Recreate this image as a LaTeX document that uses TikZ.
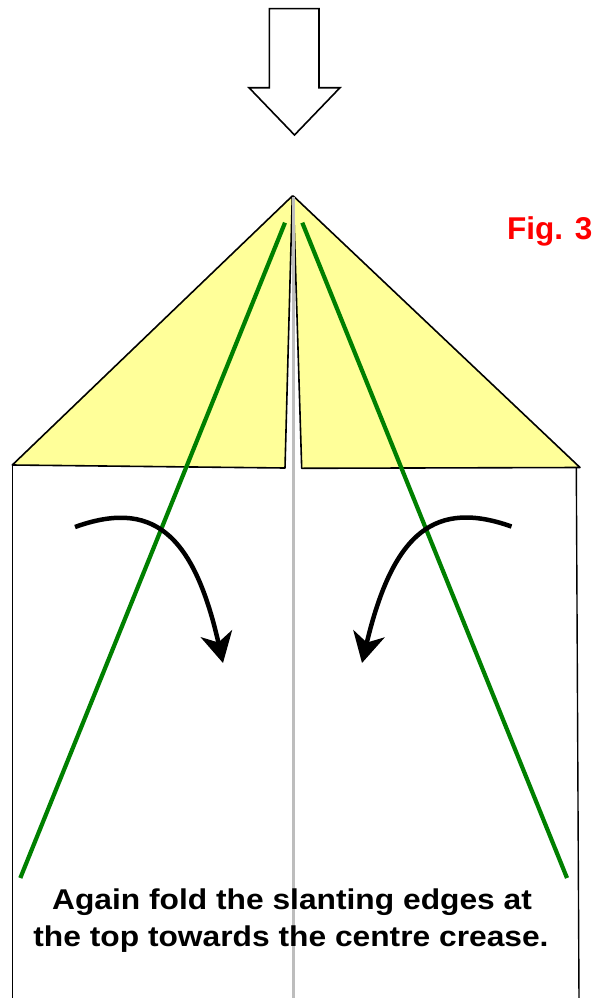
\documentclass[tikz,border=0pt]{standalone}
\usepackage{fontspec}
\setmainfont{Liberation Sans}
\usetikzlibrary{arrows.meta}
\definecolor{paleyellow}{HTML}{FFFF99}
\definecolor{foldgreen}{HTML}{008000}
\definecolor{creasegrey}{HTML}{BDBDBD}
\begin{document}
\begin{tikzpicture}[x=1pt,y=-1pt,
  flap/.style={draw=black,line width=1.6pt,fill=paleyellow,line join=round},
  paperedge/.style={draw=black,line width=1.4pt},
  crease/.style={draw=creasegrey,line width=2.6pt},
  foldline/.style={draw=foldgreen,line width=4.2pt},
  turnarrow/.style={draw=black,line width=4.5pt,-{Stealth[length=30pt,width=32pt,inset=9pt]}},
  bigarrow/.style={draw=black,line width=1.6pt,fill=white,line join=miter},
  caption/.style={font=\bfseries\fontsize{28.6}{36.7}\selectfont,anchor=base,inner sep=0pt},
  figlabel/.style={font=\bfseries\fontsize{31.5}{36}\selectfont,text=red,anchor=base west,inner sep=0pt}]
\useasboundingbox (0,0) rectangle (605,998);
\clip (0,0) rectangle (605,998);
% top push arrow
\draw[bigarrow] (269.3,8.7) -- (319,8.7) -- (319,87.7) -- (340,87.7) -- (294.5,135) -- (249,87.7) -- (269.3,87.7) -- cycle;
% key points
\coordinate (apexL) at (292.3,196);
\coordinate (apexR) at (293.3,196);
\coordinate (cornerL) at (12.3,465);
\coordinate (baseL) at (285,468);
\coordinate (baseR) at (301.7,468.3);
\coordinate (cornerR) at (580,467.5);
% flaps
\draw[flap] (apexL) -- (cornerL) -- (baseL) -- cycle;
\draw[flap] (apexR) -- (baseR) -- (cornerR) -- cycle;
% paper edges
\coordinate (edgeLtop) at (12.3,465);
\coordinate (edgeLbot) at (12.3,1000);
\coordinate (edgeRtop) at (576.3,468);
\coordinate (edgeRbot) at (579,1000);
\draw[paperedge] (edgeLtop) -- (edgeLbot);
\draw[paperedge] (edgeRtop) -- (edgeRbot);
% centre crease
\coordinate (creaseTop) at (293.3,197);
\coordinate (creaseBot) at (293.3,1000);
\draw[crease] (creaseTop) -- (creaseBot);
% green fold lines
\coordinate (gL1) at (285,222.7);
\coordinate (gL2) at (20.3,878);
\coordinate (gR1) at (302.3,222.7);
\coordinate (gR2) at (567,878);
\draw[foldline] (gL1) -- (gL2);
\draw[foldline] (gR1) -- (gR2);
% turning arrows
\coordinate (aL0) at (75,527);
\coordinate (aL3) at (223,663);
\coordinate (aR0) at (511.5,526.5);
\coordinate (aR3) at (362,663);
\draw[turnarrow] (aL0) .. controls (150,500) and (193,530) .. (aL3);
\draw[turnarrow] (aR0) .. controls (436.5,500) and (393.5,530) .. (aR3);
% texts
\node[figlabel] (fig) at (507,239.3) {Fig. 3};
\node[caption] (cap1) at (292,909.5) {\scalebox{1.11}[1]{Again fold the slanting edges at}};
\node[caption] (cap2) at (291,946.2) {\scalebox{1.11}[1]{the top towards the centre crease.}};
\end{tikzpicture}
\end{document}
